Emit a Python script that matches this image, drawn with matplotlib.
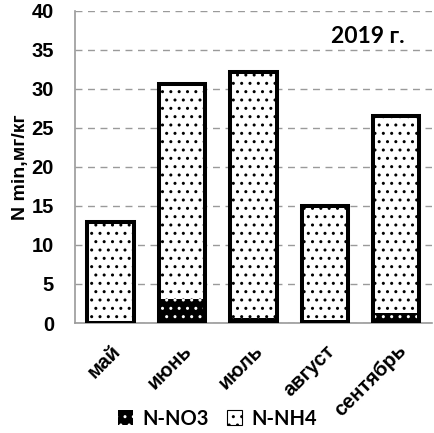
import matplotlib.pyplot as plt
from matplotlib.patches import Patch

months = ["май", "июнь", "июль", "август", "сентябрь"]
no3 = [0.2, 3.1, 0.6, 0.4, 1.3]
nh4 = [12.7, 27.5, 31.6, 14.6, 25.2]

plt.rcParams["hatch.linewidth"] = 1.0

fig = plt.figure(figsize=(4.35, 4.33), dpi=100)
ax = fig.add_axes([0.172, 0.254, 0.821, 0.721])

x = range(len(months))
w = 0.65
totals = [a + b for a, b in zip(no3, nh4)]

# N-NO3: black with white dots
ax.bar(x, no3, w, color="black", edgecolor="white", hatch="..", linewidth=0, zorder=2)
# N-NH4: white with black dots
ax.bar(x, nh4, w, bottom=no3, color="white", edgecolor="black", hatch="..", linewidth=0, zorder=2)
# outline around stacks
ax.bar(x, totals, w, fill=False, edgecolor="black", linewidth=2.9, zorder=3)

ax.set_ylim(0, 40)
ax.set_xlim(-0.5, 4.5)
ax.set_yticks(range(0, 41, 5))
ax.yaxis.grid(True, linestyle=(0, (5, 4)), color="#9a9a9a", linewidth=1)
ax.set_axisbelow(True)
for s in ["top", "right"]:
    ax.spines[s].set_visible(False)
for s in ["left", "bottom"]:
    ax.spines[s].set_color("#9a9a9a")
    ax.spines[s].set_linewidth(1.2)
ax.tick_params(axis="y", length=0, pad=15, labelsize=14.5)
ax.tick_params(axis="x", length=0, pad=13, labelsize=14.5)
for t in ax.get_yticklabels():
    t.set_fontweight("bold")
    t.set_family("Liberation Sans")
ax.set_xticks(list(x))
ax.set_xticklabels(months, rotation=45, ha="right", rotation_mode="anchor",
                   fontweight="bold", family="Liberation Sans")
ax.set_ylabel("N min,мг/кг", fontsize=14, fontweight="bold", family="Liberation Sans", labelpad=2)

ax.text(0.924, 0.918, "2019 г.", transform=ax.transAxes, ha="right", va="center",
        fontsize=16.5, fontweight="bold", family="Lato")

handles = [
    Patch(facecolor="black", edgecolor="white", hatch="..", linewidth=0, label="N-NO3"),
    Patch(facecolor="white", edgecolor="black", hatch="..", linewidth=0.8, label="N-NH4"),
]
leg = fig.legend(handles=handles, loc="lower center", bbox_to_anchor=(0.5, -0.032), ncol=2,
                 frameon=False, prop={"family": "Lato", "weight": "bold", "size": 14.5},
                 handlelength=0.75, handleheight=0.75, handletextpad=0.45, columnspacing=0.9)
leg.set_zorder(5)

fig.savefig("out.png", dpi=100)
